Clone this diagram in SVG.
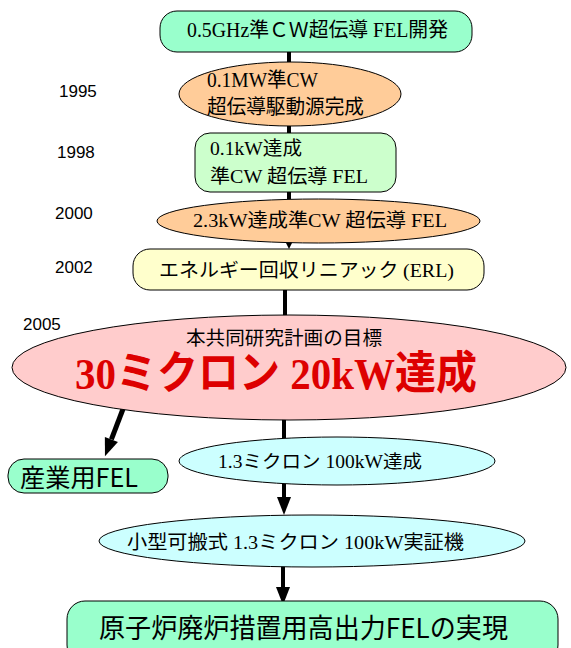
<svg xmlns="http://www.w3.org/2000/svg" width="571" height="648" viewBox="0 0 571 648">
<style>
.node{stroke:#000;stroke-width:1}
.mint{fill:#99ffcc}
.orange{fill:#ffcc99}
.lgreen{fill:#ccffcc}
.yellow{fill:#ffffcc}
.pink{fill:#ffcccc}
.cyan{fill:#ccffff}
.mix{font-family:"Liberation Serif","Noto Sans CJK JP",serif;fill:#000}
.sans{font-family:"Noto Sans CJK JP","Liberation Sans",sans-serif;fill:#000}
.year{font-family:"Liberation Sans",Arial,sans-serif;font-size:17px;fill:#000}
.conn{stroke:#000;stroke-width:4;fill:none}
</style>
<defs>
<marker id="ah" markerUnits="userSpaceOnUse" markerWidth="19" markerHeight="14" refX="0" refY="7" orient="auto" overflow="visible">
<path d="M0,0 L18,7 L0,14 z" fill="#000"/>
</marker>
<marker id="ahs" markerUnits="userSpaceOnUse" markerWidth="8" markerHeight="8" refX="0" refY="3.5" orient="auto" overflow="visible">
<path d="M0,0 L7,3.5 L0,7 z" fill="#000"/>
</marker>
</defs>

<g id="connectors">
<line class="conn" x1="289" y1="52" x2="289" y2="62"/>
<line class="conn" x1="289" y1="126" x2="289" y2="133"/>
<line class="conn" x1="289" y1="192" x2="289" y2="199"/>
<line class="conn" x1="289" y1="240" x2="289" y2="242" marker-end="url(#ahs)"/>
<line class="conn" x1="285" y1="290" x2="285" y2="316"/>
<line class="conn" x1="284" y1="419" x2="284" y2="438"/>
<line class="conn" x1="123" y1="409" x2="111.4" y2="439.4" style="stroke-width:5" marker-end="url(#ah)"/>
<line class="conn" x1="284" y1="484" x2="284" y2="497" marker-end="url(#ah)"/>
<line class="conn" x1="283" y1="566" x2="283" y2="587" marker-end="url(#ah)"/>
</g>

<g id="y1995"><text class="year" x="59" y="97">1995</text></g>
<g id="y1998"><text class="year" x="57" y="158">1998</text></g>
<g id="y2000"><text class="year" x="55" y="219">2000</text></g>
<g id="y2002"><text class="year" x="55" y="273">2002</text></g>
<g id="y2005"><text class="year" x="23" y="330">2005</text></g>

<g id="n1">
<rect class="node mint" x="160" y="11" width="312" height="41" rx="17"/>
<text class="mix" x="187" y="37" font-size="20" textLength="261" lengthAdjust="spacingAndGlyphs">0.5GHz準ＣＷ超伝導 FEL開発</text>
</g>

<g id="n2">
<ellipse class="node orange" cx="290" cy="94" rx="111" ry="32"/>
<text class="mix" x="207" y="87" font-size="20" textLength="111" lengthAdjust="spacingAndGlyphs">0.1MW準CW</text>
<text class="mix" x="207" y="114" font-size="20" textLength="157" lengthAdjust="spacingAndGlyphs">超伝導駆動源完成</text>
</g>

<g id="n3">
<rect class="node lgreen" x="195" y="133" width="201" height="59" rx="15"/>
<text class="mix" x="210" y="155" font-size="19" textLength="92" lengthAdjust="spacingAndGlyphs">0.1kW達成</text>
<text class="mix" x="210" y="183" font-size="19" textLength="158" lengthAdjust="spacingAndGlyphs">準CW 超伝導 FEL</text>
</g>

<g id="n4">
<ellipse class="node orange" cx="318.5" cy="221" rx="161.5" ry="22"/>
<text class="mix" x="193" y="227" font-size="19" textLength="254" lengthAdjust="spacingAndGlyphs">2.3kW達成準CW 超伝導 FEL</text>
</g>

<g id="n5">
<rect class="node yellow" x="133" y="249" width="351" height="41" rx="17"/>
<text class="sans" x="159" y="277" font-size="19" textLength="295" lengthAdjust="spacingAndGlyphs">エネルギー回収リニアック <tspan style="font-family:'Liberation Serif',serif">(ERL)</tspan></text>
</g>

<g id="n6">
<ellipse class="node pink" cx="289" cy="367.5" rx="277" ry="52.5"/>
<text class="sans" x="186" y="345" font-size="19" textLength="196" lengthAdjust="spacingAndGlyphs">本共同研究計画の目標</text>
<text class="mix" x="75" y="389" font-size="45" font-weight="bold" style="fill:#dd0000" textLength="402" lengthAdjust="spacingAndGlyphs">30ミクロン 20kW達成</text>
</g>

<g id="n7">
<rect class="node mint" x="8" y="459" width="160" height="34" rx="16"/>
<text class="sans" x="20" y="487" font-size="25" textLength="118" lengthAdjust="spacingAndGlyphs">産業用FEL</text>
</g>

<g id="n8">
<ellipse class="node cyan" cx="337" cy="461" rx="158" ry="24"/>
<text class="mix" x="218" y="468" font-size="18" textLength="204" lengthAdjust="spacingAndGlyphs">1.3ミクロン 100kW達成</text>
</g>

<g id="n9">
<ellipse class="node cyan" cx="312" cy="541" rx="213" ry="26"/>
<text class="mix" x="127" y="549" font-size="19" textLength="337" lengthAdjust="spacingAndGlyphs">小型可搬式 1.3ミクロン 100kW実証機</text>
</g>

<g id="n10">
<rect class="node mint" x="67" y="601" width="491" height="62" rx="18"/>
<text class="sans" x="99" y="638" font-size="27" textLength="409" lengthAdjust="spacingAndGlyphs">原子炉廃炉措置用高出力FELの実現</text>
</g>
</svg>
